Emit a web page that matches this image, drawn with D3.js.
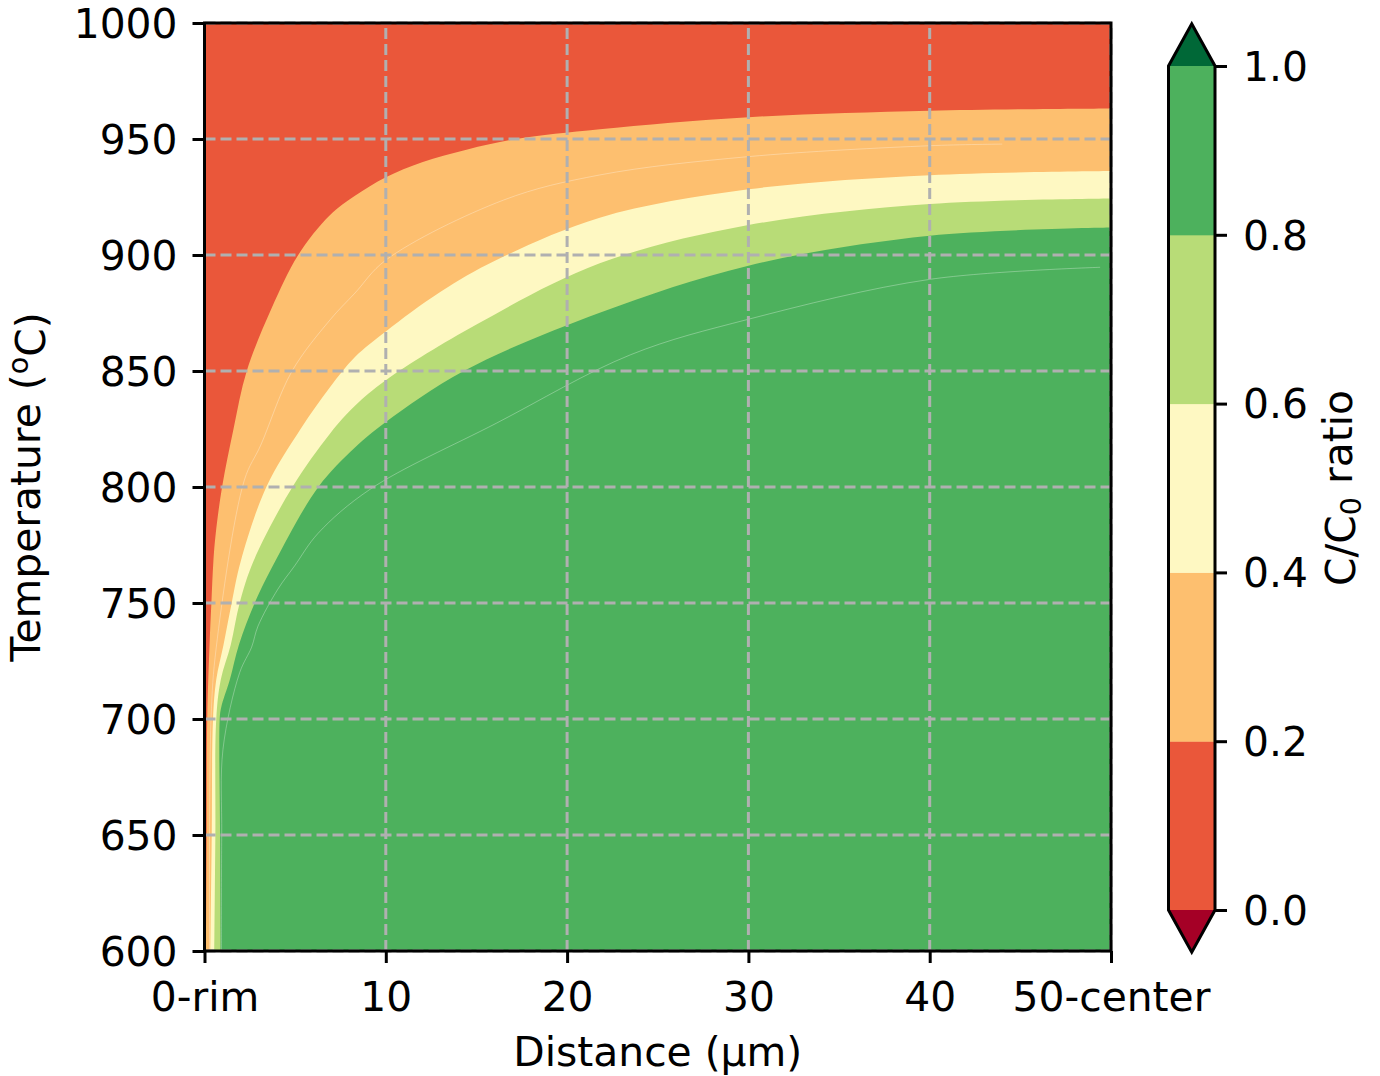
<!DOCTYPE html>
<html>
<head>
<meta charset="utf-8">
<script src="https://cdn.jsdelivr.net/npm/d3@7"></script>
<style>
  body { margin: 0; background: #fff; }
  svg text { font-family: 'DejaVu Sans', sans-serif; fill: #000; }
</style>
</head>
<body>
<div id="chart"></div>
<script>
// contour edges: [distance (µm), temperature (°C)]
const edge02 = [[0.08, 600], [0.12, 650], [0.15, 700], [0.29, 734], [0.38, 750], [0.49, 768], [0.62, 780],
    [0.97, 800], [1.6, 825], [2.33, 850], [3.7, 877], [5.17, 900], [6.9, 917], [8.3, 925.5], [10, 933.5],
    [12, 940], [14.5, 945.5], [17.2, 950], [21.8, 954.2], [30, 959.4], [40, 962.2], [50, 963.2]];
const edge04 = [[0.33, 600], [0.4, 650], [0.47, 700], [0.65, 717], [1.05, 732], [1.5, 750], [2.0, 768],
    [3.41, 800], [5.3, 825], [6.92, 843], [8.3, 856], [10, 867], [13, 884], [16.1, 897.8], [21.8, 916.1],
    [30, 928.3], [40, 934.4], [50, 936.2]];
const edge06 = [[0.55, 600], [0.6, 650], [0.65, 700], [0.9, 717], [1.45, 732], [1.94, 750], [2.7, 768],
    [4.85, 800], [6.92, 823], [8.3, 835], [10, 846], [15, 870], [21.8, 896.4], [30, 912.9], [40, 922],
    [50, 924.4]];
const edge08 = [[0.89, 600], [0.86, 650], [0.84, 700], [0.92, 705], [1.4, 717], [1.9, 732], [2.77, 750],
    [3.9, 768], [6.28, 800], [8.3, 817], [10, 828], [14.3, 850], [21.8, 875.1], [30, 895.4],
    [40, 908.3], [50, 911.8]];

// faint seams inside the orange and green bands
const seam03 = [[0.28, 600], [0.36, 700], [0.65, 731], [2.2, 803], [3.1, 818], [4.81, 849.7], [6.92, 872],
    [8.3, 883.6], [10, 897.8], [16.5, 923.7], [21.8, 934.5], [30, 942.4], [40, 947.1], [44, 947.8]];
const seam09 = [[0.93, 600], [0.95, 650], [1.02, 687], [1.94, 720], [2.6, 731], [2.95, 740], [4.05, 756],
    [4.97, 766], [6.26, 780], [9.13, 799], [16.1, 827.5], [23.5, 857], [30, 872.3], [40, 889.5],
    [49.4, 894.7]];

const levels = [0, 0.2, 0.4, 0.6, 0.8, 1.0];
const bandColors = ['#ea573a', '#fdbf6f', '#fef8c2', '#b8dc77', '#4db15d'];
const underColor = '#a50026';
const overColor = '#006837';

const xTicks = [0, 10, 20, 30, 40, 50];
const xTickLabels = ['0-rim', '10', '20', '30', '40', '50-center'];
const yTicks = [600, 650, 700, 750, 800, 850, 900, 950, 1000];
const cbTicks = [0, 0.2, 0.4, 0.6, 0.8, 1.0];

let width = 1380;
let height = 1076;
let margin = ({ top: 23, right: 269, bottom: 125, left: 204.5 });
const fontSize = 40.8;
const lw = 3;

let x = d3.scaleLinear()
    .domain([0, 50])
    .range([margin.left, width - margin.right]);

let y = d3.scaleLinear()
    .domain([600, 1000])
    .range([height - margin.bottom, margin.top]);

let svg = d3.select('#chart')
    .append('svg')
    .attr('width', width)
    .attr('height', height);

svg.append('clipPath')
    .attr('id', 'plotclip')
    .append('rect')
    .attr('x', x(0)).attr('y', y(1000))
    .attr('width', x(50) - x(0)).attr('height', y(600) - y(1000));

let plot = svg.append('g').attr('clip-path', 'url(#plotclip)');

// highest band fills everything, lower bands are painted over it
plot.append('rect')
    .attr('x', x(0)).attr('y', y(1000))
    .attr('width', x(50) - x(0)).attr('height', y(600) - y(1000))
    .attr('fill', bandColors[4]);

let edgeLine = d3.line()
    .x(d => x(d[0]))
    .y(d => y(d[1]))
    .curve(d3.curveCatmullRom.alpha(0.5));

let layers = [
    { pts: edge08, color: bandColors[3] },
    { pts: edge06, color: bandColors[2] },
    { pts: edge04, color: bandColors[1] },
    { pts: edge02, color: bandColors[0] }
];

plot.selectAll('path.band')
    .data(layers)
    .enter()
    .append('path')
    .attr('class', 'band')
    .attr('fill', d => d.color)
    .attr('d', d => edgeLine(d.pts) +
        `L${x(50) + 2},${y(1000) - 2}L${x(0) - 2},${y(1000) - 2}L${x(0) - 2},${y(600) + 2}Z`);

plot.selectAll('path.seam')
    .data([seam03, seam09])
    .enter()
    .append('path')
    .attr('class', 'seam')
    .attr('fill', 'none')
    .attr('stroke', '#ffffff')
    .attr('stroke-opacity', 0.3)
    .attr('stroke-width', 1)
    .attr('d', d => edgeLine(d));

// grid
let grid = svg.append('g');
grid.selectAll('line.gx')
    .data(xTicks)
    .enter()
    .append('line')
    .attr('x1', d => x(d)).attr('x2', d => x(d))
    .attr('y1', y(600)).attr('y2', y(1000));
grid.selectAll('line.gy')
    .data(yTicks)
    .enter()
    .append('line')
    .attr('x1', x(0)).attr('x2', x(50))
    .attr('y1', d => y(d)).attr('y2', d => y(d));
grid.selectAll('line')
    .attr('stroke', '#b0b0b0')
    .attr('stroke-width', lw)
    .attr('stroke-dasharray', '11,5');

// axes
let xAxis = g => g
    .attr('transform', `translate(0,${y(600)})`)
    .call(d3.axisBottom(x)
        .tickValues(xTicks)
        .tickFormat((d, i) => xTickLabels[i])
        .tickSize(12)
        .tickPadding(19));

let yAxis = g => g
    .attr('transform', `translate(${x(0)},0)`)
    .call(d3.axisLeft(y)
        .tickValues(yTicks)
        .tickFormat(d3.format('d'))
        .tickSize(12)
        .tickPadding(15));

let gx = svg.append('g').call(xAxis);
let gy = svg.append('g').call(yAxis);

[gx, gy].forEach(g => {
    g.selectAll('.domain').remove();
    g.selectAll('.tick line').attr('stroke', '#000').attr('stroke-width', lw);
    g.selectAll('.tick text')
        .style('font-size', fontSize + 'px')
        .style('font-family', 'DejaVu Sans');
});
gy.selectAll('.tick text').attr('dy', '0.35em');

// frame
svg.append('rect')
    .attr('x', x(0)).attr('y', y(1000))
    .attr('width', x(50) - x(0)).attr('height', y(600) - y(1000))
    .attr('fill', 'none')
    .attr('stroke', '#000')
    .attr('stroke-width', lw);

// axis labels
svg.append('text')
    .attr('x', (x(0) + x(50)) / 2)
    .attr('y', 1066)
    .attr('text-anchor', 'middle')
    .style('font-size', fontSize + 'px')
    .text('Distance (µm)');

let ylab = svg.append('text')
    .attr('transform', `translate(40,${(y(600) + y(1000)) / 2}) rotate(-90)`)
    .attr('text-anchor', 'middle')
    .style('font-size', fontSize + 'px');
ylab.append('tspan').text('Temperature (');
ylab.append('tspan').attr('dy', '-0.42em').style('font-size', '0.7em').text('o');
ylab.append('tspan').attr('dy', '0.42em').text('C)');

// colorbar
let cbX = 1168.5;
let cbW = 46.5;
let cy = d3.scaleLinear()
    .domain([0, 1])
    .range([910, 66]);
let ext = 0.05 * (cy(0) - cy(1));

let cb = svg.append('g');
cb.selectAll('rect')
    .data(d3.range(bandColors.length))
    .enter()
    .append('rect')
    .attr('x', cbX)
    .attr('y', i => cy(levels[i + 1]))
    .attr('width', cbW)
    .attr('height', i => cy(levels[i]) - cy(levels[i + 1]) + 0.5)
    .attr('fill', i => bandColors[i]);

cb.append('path')
    .attr('d', `M${cbX},${cy(1)}L${cbX + cbW / 2},${cy(1) - ext}L${cbX + cbW},${cy(1)}Z`)
    .attr('fill', overColor);
cb.append('path')
    .attr('d', `M${cbX},${cy(0)}L${cbX + cbW / 2},${cy(0) + ext}L${cbX + cbW},${cy(0)}Z`)
    .attr('fill', underColor);

cb.append('path')
    .attr('d', `M${cbX},${cy(0)}L${cbX},${cy(1)}L${cbX + cbW / 2},${cy(1) - ext}` +
        `L${cbX + cbW},${cy(1)}L${cbX + cbW},${cy(0)}L${cbX + cbW / 2},${cy(0) + ext}Z`)
    .attr('fill', 'none')
    .attr('stroke', '#000')
    .attr('stroke-width', lw)
    .attr('stroke-linejoin', 'miter');

let gcb = svg.append('g')
    .attr('transform', `translate(${cbX + cbW},0)`)
    .call(d3.axisRight(cy)
        .tickValues(cbTicks)
        .tickFormat(d3.format('.1f'))
        .tickSize(12)
        .tickPadding(16));
gcb.selectAll('.domain').remove();
gcb.selectAll('.tick line').attr('stroke', '#000').attr('stroke-width', lw);
gcb.selectAll('.tick text')
    .attr('dy', '0.35em')
    .style('font-size', fontSize + 'px')
    .style('font-family', 'DejaVu Sans');

let cblab = svg.append('text')
    .attr('transform', `translate(1355,${(cy(0) + cy(1)) / 2}) rotate(-90)`)
    .attr('text-anchor', 'middle')
    .style('font-size', fontSize + 'px');
cblab.append('tspan').text('C/C');
cblab.append('tspan').attr('dy', '0.22em').style('font-size', '0.7em').text('0');
cblab.append('tspan').attr('dy', '-0.22em').text(' ratio');
</script>
</body>
</html>
